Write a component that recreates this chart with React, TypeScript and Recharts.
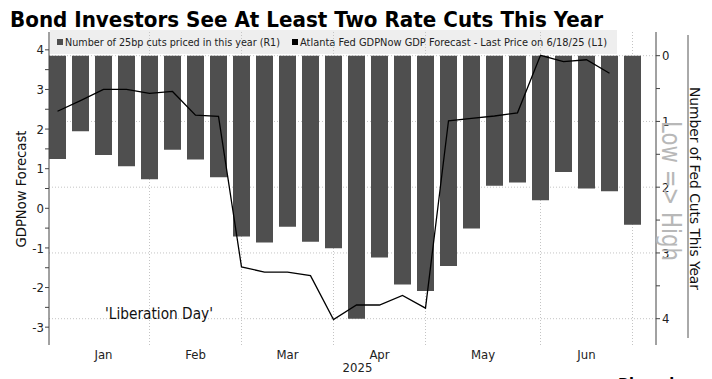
import React from "react";
import { ComposedChart, Bar, Line, XAxis, YAxis, CartesianGrid } from "recharts";

const weeks = [
  "2025-01-03", "2025-01-10", "2025-01-17", "2025-01-24", "2025-01-31",
  "2025-02-07", "2025-02-14", "2025-02-21", "2025-02-28",
  "2025-03-07", "2025-03-14", "2025-03-21", "2025-03-28",
  "2025-04-04", "2025-04-11", "2025-04-18", "2025-04-25",
  "2025-05-02", "2025-05-09", "2025-05-16", "2025-05-23", "2025-05-30",
  "2025-06-06", "2025-06-13", "2025-06-20", "2025-06-27",
];

// Number of 25bp cuts priced in this year (right axis, inverted)
const cutsPriced = [
  1.57, 1.15, 1.51, 1.68, 1.88, 1.43, 1.58, 1.85, 2.75, 2.84, 2.6, 2.83, 2.93,
  4.0, 3.07, 3.48, 3.58, 3.2, 2.63, 1.98, 1.93, 2.2, 1.77, 2.02, 2.06, 2.57,
];

// Atlanta Fed GDPNow forecast (left axis)
const gdpNow: (number | null)[] = [
  2.45, 2.72, 3.0, 3.0, 2.9, 2.95, 2.35, 2.32, -1.48, -1.61, -1.61, -1.7, -2.81,
  -2.44, -2.44, -2.2, -2.52, 2.21, 2.27, 2.33, 2.41, 3.86, 3.7, 3.75, 3.41, null,
];

const leftTicks = [-3, -2.5, -2, -1.5, -1, -0.5, 0, 0.5, 1, 1.5, 2, 2.5, 3, 3.5, 4];
const rightTicks = [0, 0.5, 1, 1.5, 2, 2.5, 3, 3.5, 4];
const cutGridValues = [0, 1, 2, 3, 4];
const monthLabels = ["Jan", "Feb", "Mar", "Apr", "May", "Jun"];
const monthLabelPositions = [2, 6, 10, 14, 18.5, 23];
const monthBoundaryIdx = [4, 8, 12, 16, 21, 25];

const data = weeks.map((w, i) => ({
  week: w,
  idx: i,
  cuts: cutsPriced[i],
  gdp: gdpNow[i],
}));

const FONT = "'DejaVu Sans Condensed', 'DejaVu Sans', sans-serif";
const intFmt = (v: number) => (Number.isInteger(v) ? String(v) : "");

export default function App() {
  return (
    <div
      style={{
        position: "absolute",
        left: 0,
        top: 0,
        width: 712,
        height: 379,
        overflow: "hidden",
        background: "#fff",
        fontFamily: FONT,
        fontStretch: "condensed",
      }}
    >
      {/* legend background (behind chart grid) */}
      <svg width={712} height={379} style={{ position: "absolute", left: 0, top: 0 }}>
        <rect x={50} y={30} width={567} height={24} fill="#eeeeee" />
        <rect x={57} y={39} width={6} height={6} fill="#4f4f4f" />
        <text x={65} y={46} fontSize={11} fill="#222" textLength={215} lengthAdjust="spacingAndGlyphs" style={{ fontFamily: FONT }}>
          Number of 25bp cuts priced in this year (R1)
        </text>
        <rect x={292} y={39} width={6} height={6} fill="#000" />
        <text x={300} y={46} fontSize={11} fill="#222" textLength={307} lengthAdjust="spacingAndGlyphs" style={{ fontFamily: FONT }}>
          Atlanta Fed GDPNow GDP Forecast - Last Price on 6/18/25 (L1)
        </text>
      </svg>

      <div style={{ position: "absolute", left: 0, top: 0 }}>
        <ComposedChart
          width={712}
          height={379}
          data={data}
          margin={{ top: 32, right: 0, bottom: 0, left: 0 }}
        >
          <CartesianGrid
            xAxisId="m"
            yAxisId="right"
            horizontalValues={cutGridValues}
            verticalValues={monthBoundaryIdx}
            stroke="#c4c4c4"
            strokeDasharray="1 2"
          />
          <XAxis
            xAxisId="m"
            dataKey="idx"
            type="number"
            domain={[-0.5, 25.5]}
            allowDataOverflow
            padding={{ left: -3, right: 12 }}
            ticks={monthLabelPositions}
            interval={0}
            tickFormatter={(v: number) => monthLabels[monthLabelPositions.indexOf(v)] ?? ""}
            axisLine={false}
            tickLine={false}
            tickSize={0}
            tickMargin={5}
            height={34}
            tick={{ fontSize: 13, fill: "#222" }}
          />
          <XAxis dataKey="week" hide height={0} padding={{ left: -3, right: 12 }} />
          <YAxis
            yAxisId="left"
            orientation="left"
            width={49}
            domain={[-3.45, 4.45]}
            allowDataOverflow
            ticks={leftTicks}
            interval={0}
            tickFormatter={intFmt}
            tickSize={4}
            tickMargin={1}
            axisLine={{ stroke: "#444" }}
            tickLine={{ stroke: "#444" }}
            tick={{ fontSize: 13, fill: "#222" }}
          />
          <YAxis
            yAxisId="right"
            orientation="right"
            reversed
            width={56}
            domain={[-0.36, 4.4]}
            allowDataOverflow
            ticks={rightTicks}
            interval={0}
            tickFormatter={intFmt}
            tickSize={4}
            tickMargin={2}
            axisLine={{ stroke: "#444" }}
            tickLine={{ stroke: "#444" }}
            tick={{ fontSize: 13, fill: "#222" }}
          />
          <Bar yAxisId="right" dataKey="cuts" fill="#4f4f4f" barSize={17} isAnimationActive={false} />
          <Line
            yAxisId="left"
            dataKey="gdp"
            type="linear"
            stroke="#000"
            strokeWidth={1.3}
            dot={false}
            activeDot={false}
            isAnimationActive={false}
          />
        </ComposedChart>
      </div>

      {/* overlay texts */}
      <svg width={712} height={379} style={{ position: "absolute", left: 0, top: 0, pointerEvents: "none" }}>
        <text x={10} y={27} fontSize={22} fontWeight="bold" fill="#000" textLength={593} lengthAdjust="spacingAndGlyphs" style={{ fontFamily: FONT }}>
          Bond Investors See At Least Two Rate Cuts This Year
        </text>
        <text
          x={26}
          y={189}
          fontSize={14}
          fill="#111"
          textAnchor="middle"
          transform="rotate(-90, 26, 189)"
          textLength={117}
          lengthAdjust="spacingAndGlyphs"
          style={{ fontFamily: FONT }}
        >
          GDPNow Forecast
        </text>
        <text
          x={662}
          y={191}
          fontSize={26}
          fill="#b8b8b8"
          textAnchor="middle"
          transform="rotate(90, 662, 191)"
          textLength={140}
          lengthAdjust="spacingAndGlyphs"
          style={{ fontFamily: FONT, fontWeight: 200 }}
        >
          {"Low => High"}
        </text>
        <line x1={688} y1={35} x2={688} y2={338} stroke="#555" strokeWidth={1} />
        <text
          x={690}
          y={188.5}
          fontSize={13.5}
          fill="#111"
          textAnchor="middle"
          transform="rotate(90, 690, 188.5)"
          textLength={203}
          lengthAdjust="spacingAndGlyphs"
          style={{ fontFamily: FONT }}
        >
          Number of Fed Cuts This Year
        </text>
        <text x={105} y={319} fontSize={15} fill="#111" textLength={108} lengthAdjust="spacingAndGlyphs" style={{ fontFamily: FONT }}>
          'Liberation Day'
        </text>
        <text x={357.5} y={372} fontSize={13} fill="#222" textAnchor="middle" style={{ fontFamily: FONT }}>
          2025
        </text>
        <text x={618} y={391} fontSize={17} fontWeight="bold" fill="#000" textLength={89} lengthAdjust="spacingAndGlyphs" style={{ fontFamily: FONT }}>
          Bloomberg
        </text>
      </svg>
    </div>
  );
}
